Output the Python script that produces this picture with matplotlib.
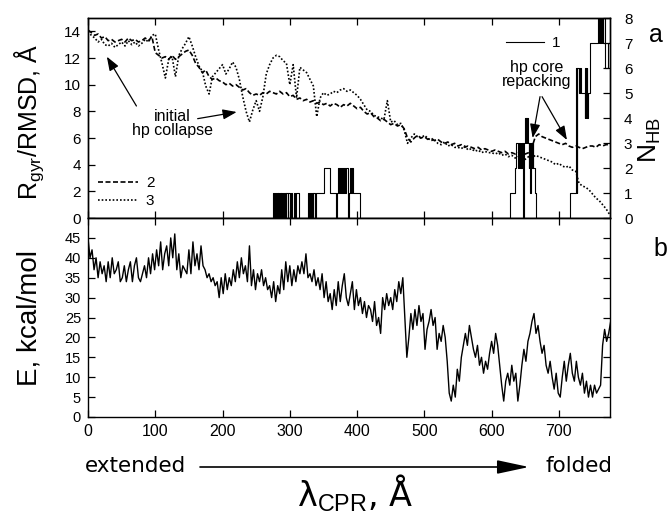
import matplotlib
matplotlib.use('Agg')
import matplotlib.pyplot as plt
import numpy as np

plt.rcParams['font.family'] = ['Liberation Sans', 'DejaVu Sans']
plt.rcParams['mathtext.fontset'] = 'custom'
plt.rcParams['mathtext.rm'] = 'Liberation Sans'
plt.rcParams['mathtext.it'] = 'Liberation Sans:italic'
plt.rcParams['mathtext.bf'] = 'Liberation Sans:bold'

# ---------------- data ----------------
energy_dx = 3
energy = [
    45, 40, 42, 37, 40, 35, 39, 36, 38, 34,
    39, 35, 40, 36, 37, 39, 34, 35, 38, 34,
    37, 39, 34, 38, 40, 35, 34, 36, 38, 35,
    40, 36, 41, 37, 42, 38, 44, 37, 41, 43,
    38, 45, 40, 46, 37, 41, 35, 38, 37, 36,
    42, 36, 44, 38, 41, 37, 43, 38, 37, 35,
    36, 34, 35, 33, 34, 30, 35, 31, 36, 32,
    35, 33, 37, 34, 39, 35, 40, 36, 38, 34,
    43, 33, 37, 32, 36, 34, 37, 33, 35, 32,
    33, 30, 34, 29, 33, 31, 37, 32, 39, 34,
    38, 33, 37, 34, 38, 36, 39, 36, 41, 35,
    36, 34, 37, 33, 35, 32, 36, 30, 34, 29,
    31, 27, 32, 28, 34, 29, 33, 36, 30, 28,
    31, 34, 27, 32, 28, 30, 26, 29, 25, 28,
    27, 24, 29, 23, 25, 21, 30, 27, 31, 28,
    30, 27, 32, 29, 34, 31, 35, 25, 15, 20,
    26, 22, 27, 23, 28, 24, 26, 17, 22, 24,
    27, 23, 25, 17, 21, 19, 23, 20, 14, 6,
    4, 8, 5, 12, 9, 15, 18, 21, 18, 23,
    20, 17, 15, 18, 13, 15, 11, 14, 12, 16,
    19, 16, 21, 18, 13, 8, 4, 9, 11, 8,
    13, 9, 11, 4, 8, 13, 17, 14, 19, 21,
    24, 26, 21, 23, 19, 16, 18, 13, 11, 14,
    10, 7, 11, 6, 5, 10, 14, 9, 13, 16,
    11, 9, 14, 10, 8, 11, 6, 9, 5, 8,
    5, 8, 6, 7, 8, 18, 22, 19, 21, 24,
]

struct_dx = 5
rgyr = [
    14.1, 13.9, 13.7, 13.8, 13.5, 13.6, 13.3, 13.4, 13.2, 13.3,
    13.4, 13.2, 13.5, 13.3, 13.4, 13.2, 13.3, 13.5, 13.3, 13.6,
    12.4, 12.2, 12.0, 12.1, 11.9, 12.2, 11.9, 12.1, 12.3, 12.5,
    12.6, 12.2, 11.6, 11.3, 10.9, 11.1, 10.6, 10.4, 10.5, 10.3,
    10.2, 10.0, 10.1, 9.9, 10.0, 9.8, 9.6, 9.7, 9.4, 9.2,
    9.3, 9.2, 9.4, 9.3, 9.5, 9.4, 9.3, 9.5, 9.3, 9.4,
    9.1, 9.2, 8.9, 9.0, 8.8, 8.9, 8.7, 8.8, 8.6, 8.7,
    8.5, 8.6, 8.4, 8.6, 8.5, 8.3, 8.5, 8.4, 8.6, 8.4,
    8.2, 8.3, 8.0, 7.8, 7.9, 7.6, 7.5, 7.3, 7.4, 7.2,
    7.0, 7.1, 6.9, 7.0, 6.7, 6.0, 5.7, 6.0, 6.2, 6.0,
    6.1, 5.9, 6.0, 5.8, 5.9, 5.7, 5.6, 5.7, 5.5, 5.6,
    5.4, 5.5, 5.3, 5.4, 5.3, 5.2, 5.3, 5.1, 5.2, 5.1,
    5.0, 5.1, 5.0, 4.9, 5.0, 4.8, 4.9, 4.8, 4.9, 4.7,
    4.8, 4.9, 5.3, 6.1, 6.3, 6.1, 6.0, 5.9, 5.8, 5.7,
    5.6, 5.5, 5.6, 5.4, 5.3, 5.4, 5.3, 5.2, 5.3, 5.4,
    5.4, 5.3, 5.5, 5.4, 5.5, 5.5,
]
rmsd = [
    14.0, 13.7, 13.5, 13.2, 13.4, 13.0, 12.9, 13.1, 12.8, 13.0,
    13.2, 12.9, 13.3, 13.0, 13.2, 12.9, 13.1, 13.4, 13.2, 13.7,
    13.8, 12.6, 11.6, 10.5, 11.9, 12.1, 10.6, 12.2, 12.7, 13.1,
    13.6, 12.9, 12.1, 11.4, 11.0, 9.9, 9.3, 10.6, 10.9, 11.2,
    11.5, 10.8, 11.2, 11.7, 11.3, 10.4, 9.1, 8.0, 7.2, 8.1,
    8.8, 8.0, 9.1, 10.8, 11.5, 12.0, 12.2, 12.1, 11.8, 11.6,
    10.0, 11.5, 9.0, 11.3, 11.1, 10.9, 10.4, 9.9, 7.6, 9.0,
    9.4, 9.2, 9.3, 9.5, 9.4, 9.6, 9.7, 9.5, 9.6, 9.4,
    9.2, 8.9, 8.5, 8.1, 8.0, 7.7, 7.6, 7.5, 7.4, 8.8,
    7.2, 7.3, 7.0, 7.1, 6.6, 5.6, 6.0, 6.3, 6.1, 6.0,
    6.2, 6.0, 5.8, 5.9, 5.6, 5.5, 5.7, 5.4, 5.5, 5.3,
    5.3, 5.2, 5.4, 5.1, 5.2, 5.0, 5.1, 4.9, 5.0, 4.9,
    4.9, 4.8, 4.9, 4.7, 4.8, 4.6, 4.7, 4.5, 4.6, 4.5,
    4.4, 4.6, 4.5, 4.7, 4.6, 4.5, 4.4, 4.3, 4.2, 4.0,
    4.1, 3.9, 3.8, 3.9, 3.6, 3.5, 2.6, 2.4, 2.3, 2.1,
    1.8, 1.5, 1.3, 1.0, 0.7, 0.3,
]

# number of hydrogen bonds: change points (x) and new values
hb_x = [0,
        275.5, 277, 278, 279.5, 280.5, 282, 283, 284, 285, 286.5, 287.5, 289, 290,
        291, 292.5, 294, 295, 297, 298, 301, 302, 304, 305.5, 308, 309, 313.5,
        327, 328, 329.5, 331, 333, 334, 335, 337, 339, 351, 359.5, 368, 370, 371.5,
        373, 374, 376, 377, 379, 380, 382, 383.5, 386, 387, 388, 389, 391, 392, 394, 404.5,
        627, 634.5, 637, 639, 640, 642, 643, 644, 645, 646, 647, 648, 649.5, 650.5,
        651, 652, 652.5, 653.5, 655, 656, 657.5, 658.5, 660, 660.8, 661.7, 664, 666,
        716, 725.5, 726.5, 727.5, 730, 731, 733, 739, 739.5, 740.5, 741, 742, 742.5,
        743.5, 746, 758, 759, 760, 761.5, 762, 763.5, 764, 765.5, 766, 768, 769, 773.5, 780]
hb_n = [0,
        1, 0, 1, 0, 1, 0, 1, 0, 1, 0, 1, 0, 1,
        0, 1, 0, 1, 0, 1, 0, 1, 0, 1, 0, 1, 0,
        1, 0, 1, 0, 1, 0, 1, 0, 1, 2, 1, 0, 1, 2,
        1, 2, 1, 2, 1, 2, 1, 2, 1, 0, 1, 2, 1, 2, 1, 0,
        1, 2, 3, 2, 3, 2, 3, 2, 3, 2, 0, 3, 4, 3,
        4, 3, 4, 3, 2, 3, 1, 3, 2, 3, 2, 1, 0,
        1, 6, 1, 6, 5, 6, 5, 4, 6, 4, 5, 6, 4,
        5, 7, 8, 7, 8, 7, 8, 7, 8, 7, 8, 7, 6, 7, 7]

x_ticks = [0, 100, 200, 300, 400, 500, 600, 700]
left_ticks_top = [0, 2, 4, 6, 8, 10, 12, 14]
right_ticks_top = [0, 1, 2, 3, 4, 5, 6, 7, 8]
e_ticks = [0, 5, 10, 15, 20, 25, 30, 35, 40, 45]

energy_x = np.arange(len(energy)) * energy_dx
struct_x = np.arange(len(rgyr)) * struct_dx

# ---------------- figure ----------------
fig = plt.figure(figsize=(6.69, 5.13), dpi=100)
L, W = 88 / 669, 522 / 669
ax1 = fig.add_axes([L, 1 - 218 / 513, W, 200 / 513])
ax3 = fig.add_axes([L, 1 - 417 / 513, W, 199 / 513])
ax2 = ax1.twinx()

XMAX = 776
for a in (ax1, ax2, ax3):
    a.set_xlim(0, XMAX)
    for s in a.spines.values():
        s.set_linewidth(1.0)

ax1.set_ylim(0, 15)
ax2.set_ylim(0, 8)
ax3.set_ylim(0, 50)

l2, = ax1.plot(struct_x, rgyr, color='black', lw=1.2, ls=(0, (3, 1.5)), label='2')
l3, = ax1.plot(struct_x, rmsd, color='black', lw=1.2, ls=(0, (1, 1.2)), label='3')
l1, = ax2.step(hb_x, hb_n, where='post', color='black', lw=0.8, label='1')
ax3.plot(energy_x, energy, color='black', lw=1.0)

tick_kw = dict(direction='in', length=5, width=0.9, labelsize=11)
ax1.set_xticks(x_ticks)
ax1.tick_params(axis='x', which='both', top=True, bottom=True, labelbottom=False, **tick_kw)
ax1.set_yticks(left_ticks_top)
ax1.tick_params(axis='y', left=True, right=False, pad=5, **tick_kw)
ax2.set_yticks(right_ticks_top)
ax2.tick_params(axis='y', right=True, pad=10, **tick_kw)

ax3.set_xticks(x_ticks)
ax3.tick_params(axis='x', top=True, bottom=True, pad=5, direction='in', length=5, width=0.9, labelsize=11.5)
ax3.set_yticks(e_ticks)
ax3.tick_params(axis='y', left=True, right=True, pad=5, direction='in', length=5, width=0.9, labelsize=10.5)

ax1.set_ylabel('R$_{\\mathrm{gyr}}$/RMSD, Å', fontsize=18)
ax1.yaxis.set_label_coords(-0.08, 0.48)
ax3.set_ylabel('E, kcal/mol', fontsize=20)
ax3.yaxis.set_label_coords(-0.088, 0.5)
ax2.set_ylabel('N$_{\\mathrm{HB}}$', fontsize=19, rotation=90)
ax2.yaxis.set_label_coords(1.052, 0.39)

fig.text(656 / 669, 1 - 35 / 513, 'a', fontsize=18, ha='center', va='center')
fig.text(660 / 669, 1 - 249 / 513, 'b', fontsize=18, ha='center', va='center')

# legends
leg1 = ax2.legend(handles=[l1], loc='center left', bbox_to_anchor=(0.80, 0.875),
                  frameon=False, fontsize=11, handlelength=2.5, handletextpad=0.5,
                  borderpad=0, borderaxespad=0)
leg2 = ax1.legend(handles=[l2, l3], loc='center left', bbox_to_anchor=(0.02, 0.128),
                  frameon=False, fontsize=11, handlelength=2.6, handletextpad=0.5,
                  borderpad=0, borderaxespad=0, labelspacing=0.25)

# annotations
arrow_kw = dict(arrowstyle='-|>,head_length=0.6,head_width=0.22', color='black', lw=0.9,
                shrinkA=0, shrinkB=0, mutation_scale=14)
ax1.text(125, 7.1, 'initial\nhp collapse', fontsize=11.5, ha='center', va='center',
         linespacing=0.95)
ax1.annotate('', xy=(28, 12.1), xytext=(72, 8.4), arrowprops=arrow_kw)
ax1.annotate('', xy=(221, 7.95), xytext=(163, 7.45), arrowprops=arrow_kw)
ax1.text(667, 10.75, 'hp core\nrepacking', fontsize=11.5, ha='center', va='center',
         linespacing=0.95)
ax1.annotate('', xy=(661, 6.0), xytext=(672, 9.1), arrowprops=arrow_kw)
ax1.annotate('', xy=(712, 5.85), xytext=(675, 9.1), arrowprops=arrow_kw)

# bottom direction arrow and axis label
fig.text(85 / 669, 1 - 466 / 513, 'extended', fontsize=15.5, family='DejaVu Sans',
         ha='left', va='center')
fig.text(612 / 669, 1 - 466 / 513, 'folded', fontsize=15.5, family='DejaVu Sans',
         ha='right', va='center')
fig.patches.append(matplotlib.patches.FancyArrowPatch(
    (200 / 669, 1 - 467 / 513), (529 / 669, 1 - 467 / 513), transform=fig.transFigure,
    arrowstyle='-|>,head_length=1.4,head_width=0.3', mutation_scale=14,
    color='black', lw=1.2, shrinkA=0, shrinkB=0))
fig.text(355 / 669, 1 - 493 / 513, 'λ$_{\\mathrm{CPR}}$, Å', fontsize=24,
         family=['DejaVu Sans'], ha='center', va='center')

fig.savefig('out.png', dpi=100)
